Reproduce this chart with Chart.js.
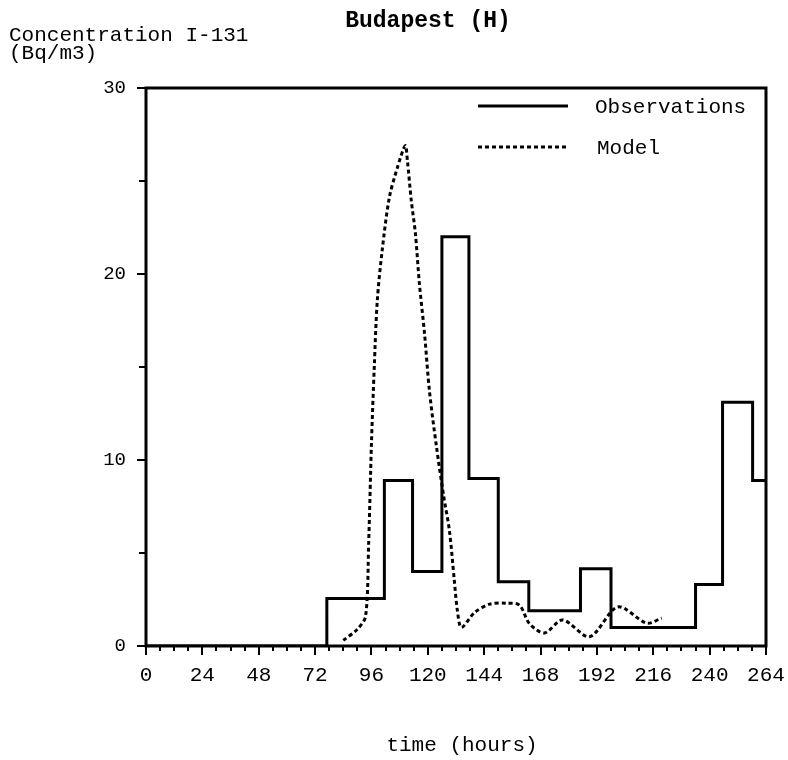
<!DOCTYPE html>
<html>
<head>
<meta charset="utf-8">
<script src="https://cdn.jsdelivr.net/npm/chart.js@4"></script>
<style>
  body { margin: 0; background: #fff; }
  #wrap { width: 788px; height: 760px; }
</style>
</head>
<body>
<div id="wrap"><canvas id="chart" width="788" height="760"></canvas></div>
<script>
// I-131 air concentration at Budapest, hours after release
const obsHours = [0, 77, 101.5, 113.5, 126, 137.5, 150, 163, 185, 198, 234, 245.5, 258.3, 264];
const obsValues = [0, 2.55, 8.9, 4.0, 22.0, 9.0, 3.45, 1.9, 4.15, 1.0, 3.3, 13.1, 8.9, 8.9];

const modelHours = [84, 90, 93.5, 94.8, 96, 97.2, 98.5, 100.6, 103.6, 107, 110.4, 111.3, 113, 114.7, 116.4,
  118.6, 120.7, 123.7, 126.7, 129.2, 131.3, 132.6, 134.3, 139.9, 146.3, 153.5, 159, 163.3, 169.7,
  177.4, 188.9, 200.9, 213.2, 219.6];
const modelValues = [0.3, 0.9, 1.6, 5.5, 10.9, 15.0, 18.6, 21.3, 24.1, 25.7, 26.9, 26.1, 23.9, 22.2, 19.5,
  16.8, 13.7, 10.7, 8.1, 6.2, 3.5, 1.9, 1.0, 1.8, 2.25, 2.3, 2.2, 1.2, 0.7,
  1.4, 0.5, 2.1, 1.23, 1.5];

const xTicks = [0, 24, 48, 72, 96, 120, 144, 168, 192, 216, 240, 264];
const yTicks = [0, 10, 20, 30];

const mono = 'Liberation Mono, Courier New, monospace';

const toPoints = (xs, ys) => xs.map((x, i) => ({ x: x, y: ys[i] }));

// frame, tick marks, legend and the free text around the plot
const decorations = {
  id: 'decorations',
  afterDraw(chart) {
    const ctx = chart.ctx;
    const area = chart.chartArea;
    const xs = chart.scales.x;
    const ys = chart.scales.y;
    ctx.save();
    ctx.strokeStyle = '#000';
    ctx.lineWidth = 3;
    ctx.strokeRect(area.left, area.top, area.right - area.left, area.bottom - area.top);

    ctx.lineWidth = 2;
    ctx.beginPath();
    for (let h = 0; h <= 264; h += 6) {
      const px = Math.round(xs.getPixelForValue(h));
      const len = h % 24 === 0 ? 9 : 5;
      ctx.moveTo(px, area.bottom);
      ctx.lineTo(px, area.bottom + len);
    }
    for (let v = 0; v <= 30; v += 5) {
      const py = Math.round(ys.getPixelForValue(v));
      const len = v % 10 === 0 ? 9 : 7;
      ctx.moveTo(area.left, py);
      ctx.lineTo(area.left - len, py);
    }
    ctx.stroke();

    // legend
    ctx.lineWidth = 3;
    ctx.beginPath();
    ctx.moveTo(478, 106);
    ctx.lineTo(568, 106);
    ctx.stroke();
    ctx.setLineDash([4, 3]);
    ctx.beginPath();
    ctx.moveTo(478, 147);
    ctx.lineTo(568, 147);
    ctx.stroke();
    ctx.setLineDash([]);

    ctx.fillStyle = '#000';
    ctx.font = '21px ' + mono;
    ctx.textBaseline = 'middle';
    ctx.textAlign = 'left';
    ctx.fillText('Observations', 595, 107);
    ctx.fillText('Model', 597, 148);

    ctx.textBaseline = 'alphabetic';
    ctx.fillText('Concentration I-131', 9, 41);
    ctx.fillText('(Bq/m3)', 9, 59);

    ctx.font = '21px ' + mono;
    ctx.textAlign = 'center';
    ctx.textBaseline = 'middle';
    ctx.fillText('time (hours)', 462, 745);

    ctx.font = 'bold 23px ' + mono;
    ctx.textBaseline = 'alphabetic';
    ctx.fillText('Budapest (H)', 428, 27);
    ctx.restore();
  }
};

new Chart(document.getElementById('chart'), {
  type: 'line',
  data: {
    datasets: [
      {
        label: 'Observations',
        data: toPoints(obsHours, obsValues),
        stepped: 'before',
        borderColor: '#000',
        borderWidth: 3,
        pointRadius: 0,
        fill: false
      },
      {
        label: 'Model',
        data: toPoints(modelHours, modelValues),
        borderColor: '#000',
        borderWidth: 3,
        borderDash: [4, 3],
        tension: 0.3,
        pointRadius: 0,
        fill: false
      }
    ]
  },
  options: {
    responsive: false,
    animation: false,
    layout: { padding: { top: 88, right: 22, left: 0, bottom: 0 } },
    plugins: {
      legend: { display: false },
      tooltip: { enabled: false }
    },
    scales: {
      x: {
        type: 'linear',
        min: 0,
        max: 264,
        afterFit: s => { s.height = 114; s.paddingLeft = 0; s.paddingRight = 0; },
        afterBuildTicks: s => { s.ticks = xTicks.map(v => ({ value: v })); },
        grid: { display: false, drawTicks: false },
        border: { display: false },
        ticks: { color: '#000', font: { family: mono, size: 21 }, padding: 17, maxRotation: 0 }
      },
      y: {
        min: 0,
        max: 30,
        afterFit: s => { s.width = 146; s.paddingTop = 0; s.paddingBottom = 0; },
        afterBuildTicks: s => { s.ticks = yTicks.map(v => ({ value: v })); },
        grid: { display: false, drawTicks: false },
        border: { display: false },
        ticks: { color: '#000', font: { family: mono, size: 19 }, padding: 20 }
      }
    }
  },
  plugins: [decorations]
});
</script>
</body>
</html>
